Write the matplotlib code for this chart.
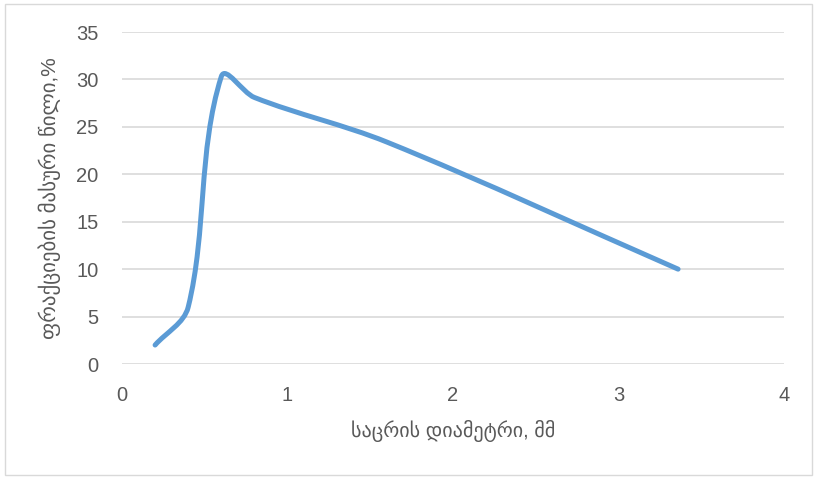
import numpy as np
import matplotlib.pyplot as plt
from matplotlib.path import Path
from matplotlib.patches import PathPatch, Rectangle

# sieve diameter (mm) and fraction mass share (%)
diameter = [0.2, 0.4, 0.6, 0.8, 1.6, 3.36]
share = [2.0, 6.0, 30.3, 28.1, 23.4, 10.0]

x_ticks = [0, 1, 2, 3, 4]
y_ticks = [0, 5, 10, 15, 20, 25, 30, 35]

xlabel = 'საცრის დიამეტრი, მმ'
ylabel = 'ფრაქციების მასური წილი,%'

plt.rcParams['font.family'] = ['Liberation Sans', 'DejaVu Sans']


def smooth_path(ax, xs, ys, t=1 / 3):
    # excel-like smoothed line, tangents worked out in screen space
    pts = ax.transData.transform(np.column_stack([xs, ys]))
    n = len(pts)
    tang = []
    for i in range(n):
        d = pts[min(i + 1, n - 1)] - pts[max(i - 1, 0)]
        tang.append(d / np.hypot(*d))
    verts = [pts[0]]
    codes = [Path.MOVETO]
    for i in range(n - 1):
        seg = np.hypot(*(pts[i + 1] - pts[i]))
        verts += [pts[i] + tang[i] * seg * t,
                  pts[i + 1] - tang[i + 1] * seg * t,
                  pts[i + 1]]
        codes += [Path.CURVE4] * 3
    inv = ax.transData.inverted()
    return Path(inv.transform(np.array(verts)), codes)


fig = plt.figure(figsize=(8.17, 4.78), dpi=100)
ax = fig.add_axes([122 / 817, 1 - 364 / 478, (784 - 122) / 817, (364 - 32) / 478])

ax.set_xlim(0, 4)
ax.set_ylim(0, 35)
ax.set_xticks(x_ticks)
ax.set_yticks(y_ticks)

ax.add_patch(PathPatch(smooth_path(ax, diameter, share), fill=False,
                       edgecolor='#5b9bd5', lw=3.6, capstyle='round',
                       joinstyle='round', zorder=3))

ax.yaxis.grid(True, color='#d9d9d9', lw=1.2)
ax.set_axisbelow(True)
for s in ax.spines.values():
    s.set_visible(False)
ax.tick_params(length=0, labelsize=14.5, labelcolor='#595959')
ax.tick_params(axis='y', pad=17)
ax.tick_params(axis='x', pad=16)

ax.set_xlabel(xlabel, fontsize=14.5, color='#595959', labelpad=11)
ax.set_ylabel(ylabel, fontsize=15, color='#595959', labelpad=11)

fig.patches.append(Rectangle((5 / 817, 3 / 478), 807 / 817, 471 / 478,
                             transform=fig.transFigure, fill=False,
                             edgecolor='#d9d9d9', lw=1))

fig.savefig('out.png', dpi=100)
